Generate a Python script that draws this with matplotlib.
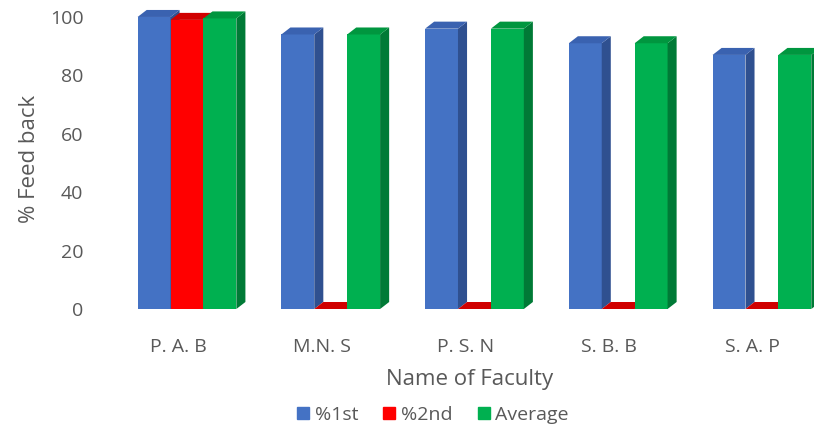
import numpy as np
import matplotlib.pyplot as plt
from matplotlib.patches import Polygon, Patch

# Data
faculty = ['P. A. B', 'M.N. S', 'P. S. N', 'S. B. B', 'S. A. P']
first = [100, 94, 96, 91, 87]
second = [99, 0, 0, 0, 0]
average = [99.5, 94, 96, 91, 87]

series = [first, second, average]
names = ['%1st', '%2nd', 'Average']
front_cols = ['#4472C4', '#FF0000', '#00B050']
side_cols = ['#2F5090', '#B80000', '#007A36']
top_cols = ['#3A62B0', '#D00000', '#00963F']

plt.rcParams['font.family'] = ['Open Sans', 'DejaVu Sans']
txt = '#595959'

fig = plt.figure(figsize=(8.14, 4.32), dpi=100)
ax = fig.add_axes([0.1536, 0.2847, 0.846, 0.6963])

x = np.arange(len(faculty))
w = 0.229      # bar width
dx = 0.063     # 3D depth offset (x)
dy = 2.4       # 3D depth offset (y)

z = 2
for s, vals in enumerate(series):
    xs = x + (s - 1) * w
    ax.bar(xs, vals, width=w, color=front_cols[s], zorder=z)
    for xc, v in zip(xs, vals):
        l, r = xc - w / 2, xc + w / 2
        # right side face
        ax.add_patch(Polygon([(r, 0), (r + dx, dy), (r + dx, v + dy), (r, v)],
                             closed=True, color=side_cols[s], lw=0, zorder=z + 1))
        # top face
        ax.add_patch(Polygon([(l, v), (r, v), (r + dx, v + dy), (l + dx, v + dy)],
                             closed=True, color=top_cols[s], lw=0, zorder=z + 1))
    z += 2

ax.set_xlim(-0.431, 4.36)
ax.set_ylim(0, 103)
ax.set_xticks(x - 0.063)
ax.set_xticklabels(faculty)
ax.set_yticks([0, 20, 40, 60, 80, 100])
for sp in ax.spines.values():
    sp.set_visible(False)
ax.tick_params(axis='both', length=0, labelsize=14, colors=txt)
ax.tick_params(axis='x', pad=21)
ax.tick_params(axis='y', pad=30)
ax.set_xlabel('Name of Faculty', fontsize=16, color=txt, labelpad=9)
ax.set_ylabel('% Feed back', fontsize=16, color=txt, labelpad=7)

handles = [Patch(color=c, label=n) for c, n in zip(front_cols, names)]
fig.legend(handles=handles, loc='center', bbox_to_anchor=(0.532, 0.04), ncol=3,
           frameon=False, fontsize=14, handlelength=0.6, handleheight=0.6,
           handletextpad=0.3, columnspacing=1.3, labelcolor=txt)

fig.savefig('out.png', dpi=100)
